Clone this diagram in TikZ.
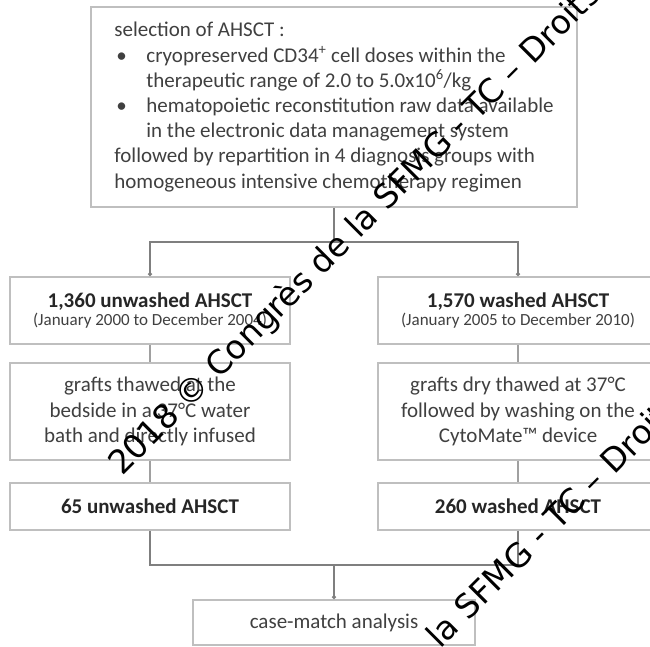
\documentclass[tikz,border=0pt]{standalone}
\usepackage{fontspec}
\setmainfont{Carlito}
\newfontfamily\wmfont{DejaVu Sans}
\usetikzlibrary{arrows.meta}
\definecolor{boxgray}{HTML}{BFBFBF}
\definecolor{linegray}{HTML}{7F7F7F}
\definecolor{stackgray}{HTML}{A0A0A0}
\definecolor{txtgray}{HTML}{404040}
\definecolor{boldtxt}{HTML}{262626}
\begin{document}
\begin{tikzpicture}[x=1pt,y=-1pt,
  box/.style={draw=boxgray, line width=1.8pt, inner sep=0pt, align=center, text=txtgray,
    font=\fontsize{21}{25.2}\selectfont},
  conn/.style={draw=linegray, line width=1.6pt},
  stackline/.style={draw=stackgray, line width=2pt},
  dotend/.style={-{Circle[length=4pt]}},
  wm/.style={font=\wmfont\fontsize{33}{33}\selectfont, text=black, rotate=45, anchor=base west, inner sep=0pt}
]
\useasboundingbox (0,0) rectangle (650,646);
\clip (0,0) rectangle (650,646);
\fill[white] (0,0) rectangle (650,646);

\node[box, align=left, minimum width=486pt, minimum height=200pt] (top) at (334,107) {%
selection of AHSCT :\\
\makebox[32pt][l]{\hspace*{2pt}•}cryopreserved CD34\textsuperscript{+} cell doses within the\\
\hspace*{32pt}therapeutic range of 2.0 to 5.0x10\textsuperscript{6}/kg\\
\makebox[32pt][l]{\hspace*{2pt}•}hematopoietic reconstitution raw data available\\
\hspace*{32pt}in the electronic data management system\\
followed by repartition in 4 diagnosis groups with\\
homogeneous intensive chemotherapy regimen};

\node[box, minimum width=280pt, minimum height=67pt] (b1L) at (150,310.5)
  {{\color{boldtxt}\bfseries 1,360 unwashed AHSCT}\\[-7.2pt]{\fontsize{17}{18}\selectfont (January 2000 to December 2004)}};
\node[box, minimum width=280pt, minimum height=67pt] (b1R) at (518,310.5)
  {{\color{boldtxt}\bfseries 1,570 washed AHSCT}\\[-7.2pt]{\fontsize{17}{18}\selectfont (January 2005 to December 2010)}};

\node[box, minimum width=280pt, minimum height=97pt] (b2L) at (150,411.5)
  {grafts thawed at the\\bedside in a 37°C water\\bath and directly infused};
\node[box, minimum width=280pt, minimum height=97pt] (b2R) at (518,411.5)
  {grafts dry thawed at 37°C\\followed by washing on the\\CytoMate™ device};

\node[box, minimum width=280pt, minimum height=47pt] (b3L) at (150,506.5)
  {{\color{boldtxt}\bfseries 65 unwashed AHSCT}};
\node[box, minimum width=280pt, minimum height=47pt] (b3R) at (518,506.5)
  {{\color{boldtxt}\bfseries 260 washed AHSCT}};

\node[box, minimum width=282pt, minimum height=45pt] (case) at (334,622.5)
  {case-match analysis};

\coordinate (split) at (334,242);
\draw[conn] (top.south) -- (split);
\draw[conn,dotend] (split) -| (b1L.north);
\draw[conn,dotend] (split) -| (b1R.north);
\draw[stackline] (b1L.south) -- (b2L.north);
\draw[stackline] (b1R.south) -- (b2R.north);
\draw[stackline] (b2L.south) -- (b3L.north);
\draw[stackline] (b2R.south) -- (b3R.north);
\coordinate (merge) at (334,565);
\draw[conn] (b3L.south) |- (merge);
\draw[conn] (b3R.south) |- (merge);
\draw[conn,dotend] (merge) -- (case.north);

\node[wm] (wm1) at (122,477) {2018 © Congrès de la SFMG - TC – Droits};
\node[wm] (wm2) at (203,887) {2018 © Congrès de la SFMG - TC – Droits};
\end{tikzpicture}
\end{document}
